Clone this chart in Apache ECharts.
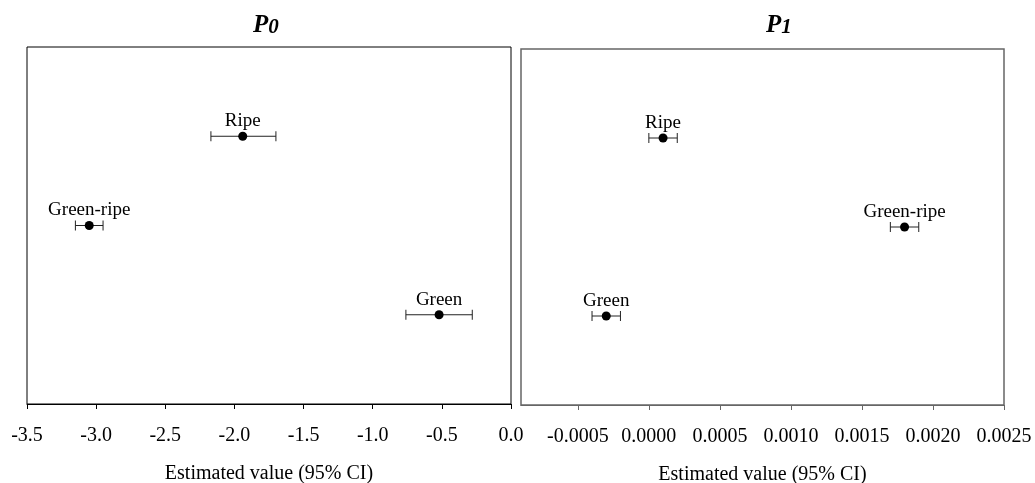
<!DOCTYPE html>
<html>
<head>
<meta charset="utf-8">
<script src="https://cdn.jsdelivr.net/npm/echarts@6/dist/echarts.min.js"></script>
<style>
  html, body { margin: 0; padding: 0; background: #fff; }
  #chart { width: 1035px; height: 483px; }
</style>
</head>
<body>
<div id="chart"></div>
<script>
// Fruit ripeness stages, top to bottom
const stages = ['Ripe', 'Green-ripe', 'Green'];

// P0 estimates with 95% confidence limits
const p0Est  = [-1.94, -3.05, -0.52];
const p0Low  = [-2.17, -3.15, -0.76];
const p0High = [-1.70, -2.95, -0.28];

// P1 estimates with 95% confidence limits
const p1Est  = [0.0001, 0.0018, -0.0003];
const p1Low  = [0.0000, 0.0017, -0.0004];
const p1High = [0.0002, 0.0019, -0.0002];

// Axis tick labels
const p0Ticks = [-3.5, -3.0, -2.5, -2.0, -1.5, -1.0, -0.5, 0.0];
const p1Ticks = [-0.0005, 0.0000, 0.0005, 0.0010, 0.0015, 0.0020, 0.0025];

const FONT = 'Liberation Serif';
const rank = i => stages.length - i;   // vertical slot of each stage

function points(est) {
  return est.map((v, i) => ({ value: [v, rank(i)], name: stages[i] }));
}
function bars(low, high) {
  return low.map((v, i) => [v, high[i], rank(i)]);
}

// Horizontal CI bar with end caps
function renderCI(params, api) {
  const a = api.coord([api.value(0), api.value(2)]);
  const b = api.coord([api.value(1), api.value(2)]);
  const cap = 5;
  const style = { stroke: '#222', lineWidth: 1 };
  return {
    type: 'group',
    children: [
      { type: 'line', shape: { x1: a[0], y1: a[1], x2: b[0], y2: b[1] }, style },
      { type: 'line', shape: { x1: a[0], y1: a[1] - cap, x2: a[0], y2: a[1] + cap }, style },
      { type: 'line', shape: { x1: b[0], y1: b[1] - cap, x2: b[0], y2: b[1] + cap }, style }
    ]
  };
}

function xAxisBase(color) {
  return {
    type: 'value',
    name: 'Estimated value (95% CI)',
    nameLocation: 'middle',
    nameGap: 60,
    nameTextStyle: { fontFamily: FONT, fontSize: 20, color: '#000' },
    splitLine: { show: false },
    axisLine: { show: true, lineStyle: { color: color, width: 1 } },
    axisTick: { show: true, inside: false, length: 5, lineStyle: { color: color } },
    axisLabel: { fontFamily: FONT, fontSize: 20, color: '#000', margin: 22 }
  };
}

function pointLabel() {
  return {
    show: true,
    position: 'top',
    distance: 1,
    formatter: p => p.name,
    fontFamily: FONT,
    fontSize: 19,
    color: '#000'
  };
}

const chart = echarts.init(document.getElementById('chart'), null, { renderer: 'canvas' });

const titleRich = {
  p: { fontFamily: FONT, fontSize: 25, fontWeight: 'bold', fontStyle: 'italic', color: '#000', padding: [0, 0, 5, 0] },
  s: { fontFamily: FONT, fontSize: 21, fontWeight: 'bold', fontStyle: 'italic', color: '#000' }
};

chart.setOption({
  animation: false,
  title: [
    { text: '{p|P}{s|0}', left: 248, top: 8, textStyle: { rich: titleRich } },
    { text: '{p|P}{s|1}', left: 761, top: 8, textStyle: { rich: titleRich } }
  ],
  grid: [
    { left: 27, right: 524, top: 47, bottom: 79, show: true, borderColor: '#000', borderWidth: 1,
      backgroundColor: 'transparent', containLabel: false, outerBoundsMode: 'none' },
    { left: 521, right: 31, top: 49, bottom: 78, show: true, borderColor: '#666', borderWidth: 1.5,
      backgroundColor: 'transparent', containLabel: false, outerBoundsMode: 'none' }
  ],
  xAxis: [
    Object.assign(xAxisBase('#000'), {
      gridIndex: 0, min: -3.5, max: 0, interval: 0.5,
      axisLabel: Object.assign(xAxisBase('#000').axisLabel, {
        formatter: v => v.toFixed(1)
      })
    }),
    Object.assign(xAxisBase('#666'), {
      gridIndex: 1, min: -0.0009, max: 0.0025,
      axisTick: { show: true, length: 5, lineStyle: { color: '#666' }, customValues: p1Ticks },
      axisLabel: Object.assign(xAxisBase('#666').axisLabel, {
        customValues: p1Ticks,
        formatter: v => v.toFixed(4)
      })
    })
  ],
  yAxis: [
    { type: 'value', gridIndex: 0, min: 0, max: 4, show: false, splitLine: { show: false } },
    { type: 'value', gridIndex: 1, min: 0, max: 4, show: false, splitLine: { show: false } }
  ],
  series: [
    { type: 'custom', xAxisIndex: 0, yAxisIndex: 0, renderItem: renderCI, data: bars(p0Low, p0High), z: 2 },
    { type: 'scatter', xAxisIndex: 0, yAxisIndex: 0, symbol: 'circle', symbolSize: 9,
      itemStyle: { color: '#000', opacity: 1 }, label: pointLabel(), data: points(p0Est), z: 3 },
    { type: 'custom', xAxisIndex: 1, yAxisIndex: 1, renderItem: renderCI, data: bars(p1Low, p1High), z: 2 },
    { type: 'scatter', xAxisIndex: 1, yAxisIndex: 1, symbol: 'circle', symbolSize: 9,
      itemStyle: { color: '#000', opacity: 1 }, label: pointLabel(), data: points(p1Est), z: 3 }
  ]
});
</script>
</body>
</html>
